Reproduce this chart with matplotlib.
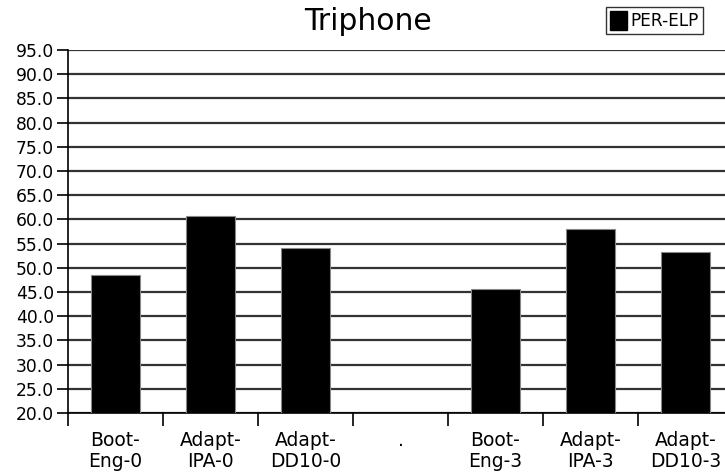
import numpy as np
import matplotlib
matplotlib.use("Agg")
import matplotlib.pyplot as plt
from matplotlib.patches import Patch

plt.rcParams['font.family'] = ['DejaVu Sans']

# PER-ELP scores per system (no bar for the "." spacer slot)
categories = ["Boot-\nEng-0", "Adapt-\nIPA-0", "Adapt-\nDD10-0", ".",
              "Boot-\nEng-3", "Adapt-\nIPA-3", "Adapt-\nDD10-3"]
per_elp = [48.6, 60.7, 54.0, np.nan, 45.6, 58.0, 53.3]
y_ticks = np.arange(20, 96, 5)

fig = plt.figure(figsize=(7.25, 4.75), dpi=100)
# axes runs a little past the right edge of the canvas
ax = fig.add_axes([68 / 725, 1 - 413 / 475, 665 / 725, 363 / 475])

x = np.arange(len(categories))
ax.bar(x, per_elp, width=0.52, bottom=0, color="black",
       edgecolor="#888888", linewidth=0.8, zorder=3)

ax.set_ylim(20, 95)
ax.set_xlim(-0.5, len(categories) - 0.5)
ax.set_yticks(y_ticks)
ax.set_yticklabels([f"{v:.1f}" for v in y_ticks], fontsize=12.3)
ax.yaxis.grid(True, color="#333333", linewidth=1.6, zorder=1)

# ticks sit between the categories, labels at the centres
ax.set_xticks(np.arange(len(categories) + 1) - 0.5)
ax.set_xticklabels([])
ax.set_xticks(x, minor=True)
ax.set_xticklabels(categories, minor=True, fontsize=13.5, linespacing=1.1)
ax.tick_params(axis="x", which="minor", length=0, pad=13)
ax.tick_params(axis="x", which="major", length=9, width=1.2, direction="out")
ax.tick_params(axis="y", length=8, width=1.2, pad=2)

for side in ["top", "right"]:
    ax.spines[side].set_visible(False)
ax.spines["left"].set_linewidth(1.2)
ax.spines["bottom"].set_linewidth(1.2)

fig.text(368 / 725, 1 - 22 / 475, "Triphone", fontsize=21.5,
         ha="center", va="center")

fig.legend(handles=[Patch(facecolor="black", edgecolor="black", label="PER-ELP")],
           loc="upper right", bbox_to_anchor=(703 / 725, 1 - 7 / 475),
           fontsize=12.2, frameon=True, fancybox=False, edgecolor="black",
           handlelength=1.0, handleheight=1.3, handletextpad=0.2,
           borderpad=0.25, borderaxespad=0)

fig.savefig("out.png", dpi=100)
